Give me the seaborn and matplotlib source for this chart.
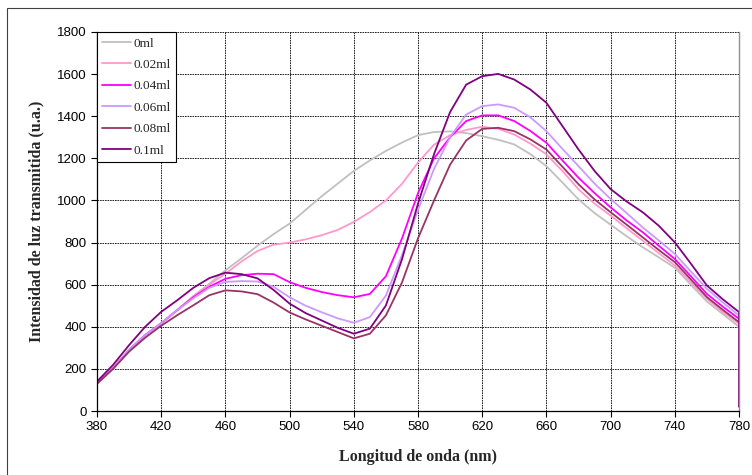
import numpy as np
import matplotlib
matplotlib.use("Agg")
import matplotlib.pyplot as plt
import pandas as pd
import seaborn as sns
from matplotlib.patches import Rectangle

# wavelength grid (nm), 380..780 every 10 nm
wl = [380, 390, 400, 410, 420, 430, 440, 450, 460, 470, 480, 490, 500, 510,
      520, 530, 540, 550, 560, 570, 580, 590, 600, 610, 620, 630, 640, 650,
      660, 670, 680, 690, 700, 710, 720, 730, 740, 750, 760, 770, 780]

ml_0 = [130, 205, 290, 360, 418, 480, 545, 605, 668, 725, 785, 840, 890, 955,
        1020, 1080, 1140, 1190, 1235, 1275, 1310, 1325, 1328, 1320, 1305, 1288, 1266, 1220,
        1163, 1085, 1005, 940, 885, 830, 778, 730, 680, 600, 520, 460, 400]
ml_002 = [130, 203, 290, 361, 416, 479, 545, 600, 652, 710, 760, 790, 800, 815,
          835, 860, 898, 945, 1000, 1079, 1180, 1265, 1310, 1335, 1350, 1340, 1313, 1270,
          1219, 1140, 1053, 985, 928, 868, 809, 750, 691, 612, 533, 470, 414]
ml_004 = [130, 203, 290, 361, 416, 479, 540, 590, 628, 645, 652, 650, 612, 585,
          565, 550, 540, 556, 640, 819, 1035, 1200, 1300, 1377, 1404, 1404, 1377, 1330,
          1274, 1190, 1108, 1035, 967, 905, 849, 785, 722, 640, 556, 495, 438]
ml_006 = [130, 203, 290, 361, 416, 479, 535, 585, 613, 617, 615, 590, 540, 500,
          469, 440, 419, 446, 548, 740, 955, 1150, 1300, 1408, 1448, 1456, 1440, 1395,
          1329, 1245, 1163, 1080, 1007, 940, 872, 810, 746, 663, 580, 515, 454]
ml_008 = [130, 200, 282, 348, 405, 455, 502, 550, 573, 568, 555, 515, 468, 435,
          405, 375, 345, 367, 454, 610, 820, 1000, 1170, 1285, 1340, 1345, 1329, 1290,
          1242, 1160, 1077, 1005, 944, 885, 825, 765, 707, 625, 541, 480, 422]
ml_01 = [140, 219, 313, 400, 471, 526, 585, 631, 657, 650, 630, 575, 510, 465,
         430, 395, 367, 391, 501, 720, 985, 1220, 1420, 1550, 1590, 1601, 1574, 1527,
         1464, 1353, 1242, 1140, 1054, 995, 944, 880, 801, 700, 596, 530, 470]
# the 0.1ml trace falls straight down at the last wavelength
ml_01_end = 20

labels = ["0ml", "0.02ml", "0.04ml", "0.06ml", "0.08ml", "0.1ml"]
series = [ml_0, ml_002, ml_004, ml_006, ml_008, ml_01]
colors = ["#c0c0c0", "#ff99cc", "#ff00ff", "#cc99ff", "#993366", "#800080"]

rows = []
for lab, vals in zip(labels, series):
    for i, (x, y) in enumerate(zip(wl, vals)):
        rows.append((lab, i, x, y))
rows.append(("0.1ml", len(wl), wl[-1], ml_01_end))
df = pd.DataFrame(rows, columns=["muestra", "orden", "nm", "intensidad"])

sns.set_style("white")
plt.rcParams['font.family'] = ['Liberation Sans', 'DejaVu Sans']

fig = plt.figure(figsize=(7.52, 4.75), dpi=100)
ax = fig.add_axes([97/752, 1 - 411/475, (739-97)/752, (411-32)/475])

for lab, col in zip(labels, colors):
    sub = df[df.muestra == lab].sort_values("orden")
    sns.lineplot(data=sub, x="nm", y="intensidad", color=col, lw=1.3,
                 estimator=None, sort=False, label=lab, ax=ax)

ax.set_xlim(380, 780)
ax.set_ylim(0, 1800)
ax.set_xticks(np.arange(380, 781, 40))
ax.set_yticks(np.arange(0, 1801, 200))
ax.grid(True, color="black", linestyle=(0, (2, 1)), lw=0.6)
ax.tick_params(direction="out", length=4, width=0.8, labelsize=9.5, colors="black",
               bottom=True, left=True)

for s in ["left", "bottom"]:
    ax.spines[s].set_color("black")
    ax.spines[s].set_linewidth(0.9)
ax.spines["top"].set_visible(False)
ax.spines["right"].set_color("#909090")
ax.spines["right"].set_linewidth(1.0)

ax.set_xlabel("Longitud de onda (nm)", family="Liberation Serif", fontweight="bold",
              fontsize=11.5, labelpad=11)
ax.set_ylabel("Intensidad de luz transmitida (u.a.)", family="Liberation Serif",
              fontweight="bold", fontsize=11.5, labelpad=9)

leg = ax.legend(loc="upper left", bbox_to_anchor=(0, 1), borderaxespad=0,
                prop={"family": "Liberation Serif", "size": 9.5}, frameon=True,
                fancybox=False, framealpha=1, edgecolor="black",
                handlelength=2.2, labelspacing=0.7, handletextpad=0.2)
leg.get_frame().set_linewidth(0.8)

fig.patches.append(Rectangle((7/752, -0.1), 1.2, (475-8)/475 + 0.1,
                             transform=fig.transFigure, fill=False,
                             edgecolor="#404040", lw=0.8))

fig.savefig("out.png", dpi=100)
